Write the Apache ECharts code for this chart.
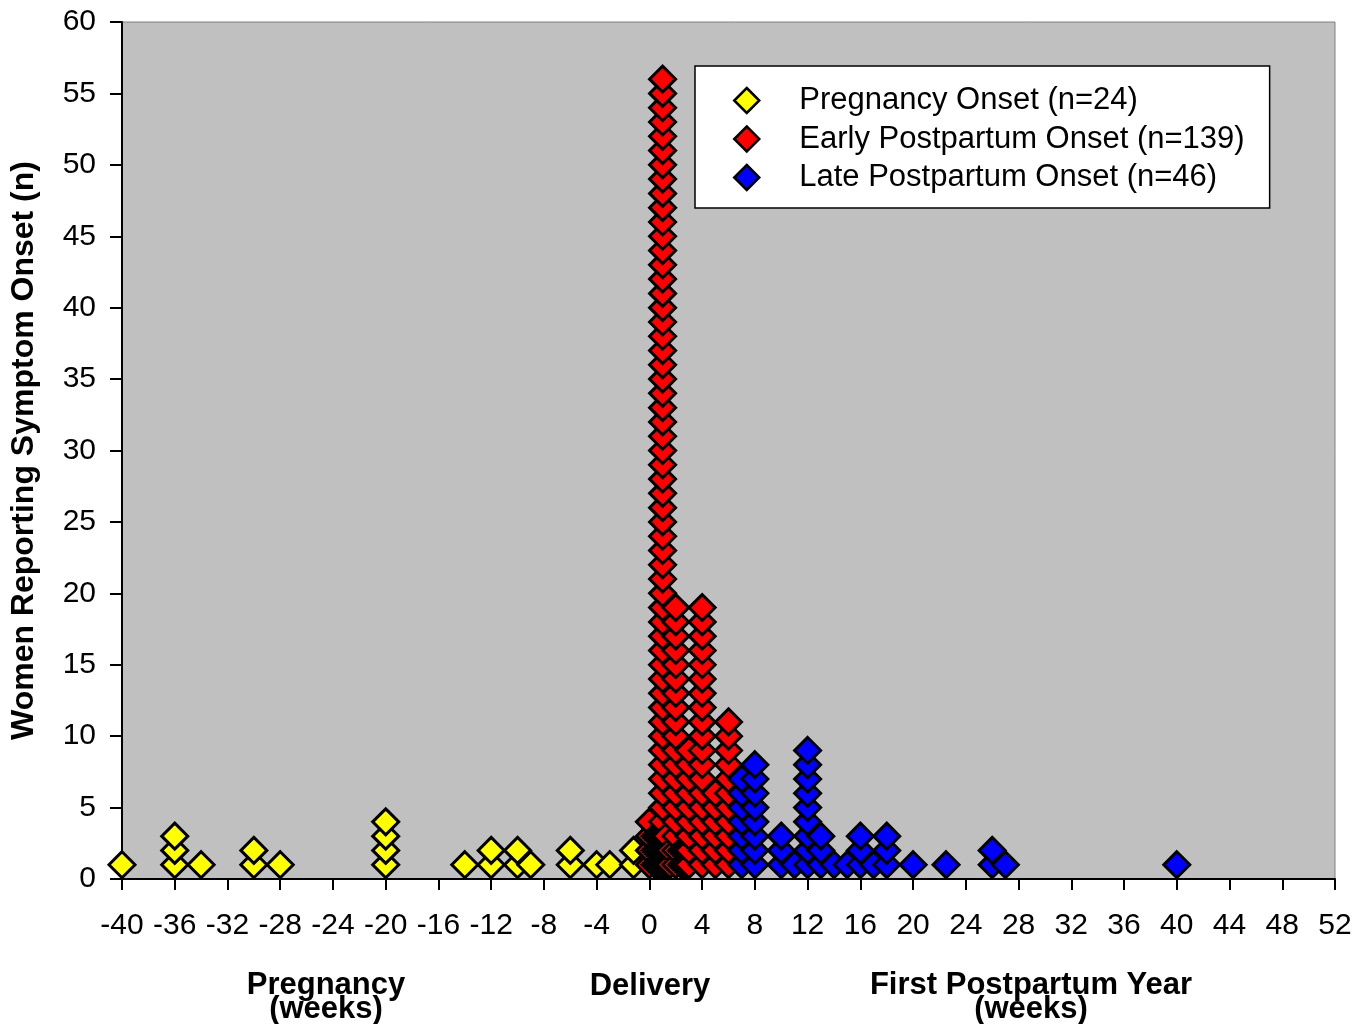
<!DOCTYPE html>
<html>
<head>
<meta charset="utf-8">
<title>Symptom onset</title>
<script src="https://cdn.jsdelivr.net/npm/echarts@6/dist/echarts.min.js"></script>
<style>
  html, body { margin: 0; padding: 0; background: #fff; }
  #main { width: 1369px; height: 1024px; }
</style>
</head>
<body>
<div id="main"></div>
<script type="text/javascript">
// weeks relative to delivery and how many women reported onset that week
var pregWeeks  = [-40, -36, -34, -30, -28, -20, -14, -12, -10, -9, -6, -4, -3, -1.2];
var pregCounts = [1, 3, 1, 2, 1, 4, 1, 2, 2, 1, 2, 1, 1, 2];

var earlyWeeks  = [0, 0.43, 0.71, 1, 1.29, 1.57, 2, 2.43, 2.71, 3, 4, 5, 6];
var earlyCounts = [4, 3, 3, 56, 3, 2, 19, 2, 2, 9, 19, 6, 11];

var lateWeeks  = [7, 8, 10, 11, 12, 13, 14, 15, 16, 17, 18, 20, 22.5, 26, 27, 40];
var lateCounts = [7, 8, 3, 1, 9, 3, 1, 1, 3, 1, 3, 1, 1, 2, 1, 1];

var seriesNames = ['Pregnancy Onset (n=24)', 'Early Postpartum Onset (n=139)', 'Late Postpartum Onset (n=46)'];
var seriesColors = ['#ffff00', '#ff0000', '#0000ff'];

// one diamond per woman, stacked upward in each week
function stackPoints(weeks, counts) {
  var pts = [];
  for (var i = 0; i < weeks.length; i++) {
    for (var k = 1; k <= counts[i]; k++) {
      pts.push([weeks[i], k]);
    }
  }
  return pts;
}

var groups = [
  stackPoints(pregWeeks, pregCounts),
  stackPoints(earlyWeeks, earlyCounts),
  stackPoints(lateWeeks, lateCounts)
];

var font = 'Liberation Sans, Arial, Helvetica, sans-serif';

var chart = echarts.init(document.getElementById('main'));

var option = {
  animation: false,
  textStyle: { fontFamily: font },
  grid: {
    left: 122, right: 34, top: 22, bottom: 145,
    outerBoundsMode: 'none',
    containLabel: false,
    show: true,
    backgroundColor: '#c0c0c0',
    borderColor: '#808080',
    borderWidth: 1
  },
  legend: {
    orient: 'vertical',
    left: 695,
    top: 66,
    padding: [19, 25, 15, 38],
    itemGap: 7.5,
    itemWidth: 25,
    itemHeight: 25,
    backgroundColor: '#ffffff',
    borderColor: '#000000',
    borderWidth: 1.5,
    borderRadius: 0,
    icon: 'diamond',
    itemStyle: { borderColor: '#000', borderWidth: 2.5 },
    textStyle: { fontSize: 31, color: '#000', fontFamily: font, padding: [0, 0, 0, 35] },
    data: seriesNames
  },
  xAxis: {
    type: 'value',
    min: -40,
    max: 52,
    interval: 4,
    axisLine: { show: true, onZero: false, lineStyle: { color: '#000', width: 2 } },
    axisTick: { show: true, length: 11, lineStyle: { color: '#000', width: 2 } },
    axisLabel: { fontSize: 30, color: '#000', margin: 32, fontFamily: font },
    splitLine: { show: false }
  },
  yAxis: {
    type: 'value',
    min: 0,
    max: 60,
    interval: 5,
    name: 'Women Reporting Symptom Onset (n)',
    nameLocation: 'middle',
    nameGap: 82,
    nameRotate: 90,
    nameTextStyle: { fontSize: 32, fontWeight: 'bold', color: '#000', fontFamily: font },
    axisLine: { show: true, onZero: false, lineStyle: { color: '#000', width: 2 } },
    axisTick: { show: true, length: 12, lineStyle: { color: '#000', width: 2 } },
    axisLabel: { fontSize: 30, color: '#000', margin: 26, fontFamily: font },
    splitLine: { show: false }
  },
  graphic: [
    {
      type: 'text',
      x: 326, y: 973,
      style: { text: 'Pregnancy\n(weeks)', font: 'bold 31px ' + font, fill: '#000', align: 'center', lineHeight: 24 }
    },
    {
      type: 'text',
      x: 650, y: 974,
      style: { text: 'Delivery', font: 'bold 31px ' + font, fill: '#000', align: 'center', lineHeight: 24 }
    },
    {
      type: 'text',
      x: 1031, y: 973,
      style: { text: 'First Postpartum Year\n(weeks)', font: 'bold 31px ' + font, fill: '#000', align: 'center', lineHeight: 24 }
    }
  ],
  series: groups.map(function (pts, i) {
    return {
      name: seriesNames[i],
      type: 'scatter',
      data: pts,
      symbol: 'diamond',
      symbolSize: 26,
      itemStyle: { color: seriesColors[i], borderColor: '#000', borderWidth: 3, opacity: 1 },
      emphasis: { disabled: true }
    };
  })
};

chart.setOption(option);
</script>
</body>
</html>
